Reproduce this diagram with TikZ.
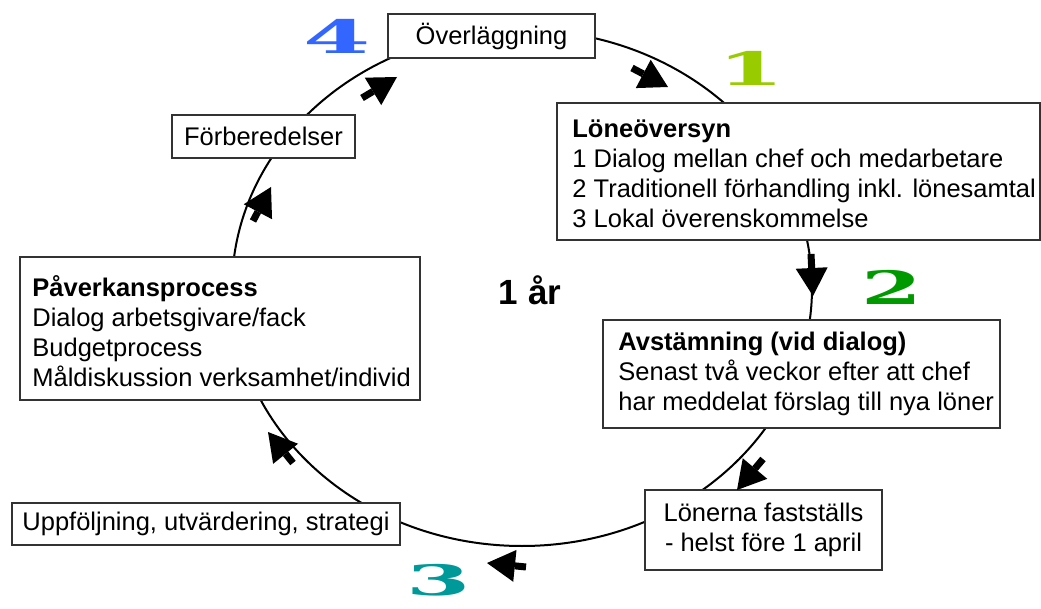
\documentclass[tikz,border=0pt]{standalone}
\usepackage{fontspec}
\usepackage{graphicx}
\setmainfont{Liberation Sans}
\newfontfamily\numfont{DejaVu Serif}
\usetikzlibrary{arrows.meta}
\definecolor{cfour}{RGB}{51,102,255}
\definecolor{cone}{RGB}{153,204,0}
\definecolor{ctwo}{RGB}{0,153,0}
\definecolor{cthree}{RGB}{0,153,153}
\begin{document}
\begin{tikzpicture}[x=1pt,y=-1pt,
  box/.style={draw=black!80, line width=1.6pt, fill=white, inner sep=0pt, font=\fontsize{25.5}{30}\selectfont},
  txt/.style={font=\fontsize{25.5}{30}\selectfont, align=left, inner sep=0pt, anchor=west},
  flow/.style={line width=7pt, -{Triangle[width=32pt,length=28pt,line width=0pt]}},
  ring/.style={line width=2pt},
  num/.style={font=\numfont\bfseries\fontsize{46}{46}\selectfont, inner sep=0pt}]
\useasboundingbox (0,0) rectangle (1041,609);
% cycle
\coordinate (c) at (522,288);
\draw[ring] (c) ellipse [x radius=290, y radius=258];
% boxes
\node[box, minimum width=207pt, minimum height=44pt] (ov) at (491.5,36) {Överläggning};
\node[box, minimum width=183pt, minimum height=43pt] (forb) at (263.5,136.5) {Förberedelser};
\node[box, minimum width=388pt, minimum height=42pt] (uppf) at (206,524) {Uppföljning, utvärdering, strategi};
\node[box, minimum width=237pt, minimum height=80pt, align=center] (lonerna) at (763.5,530) {Lönerna fastställs\\- helst före 1 april};
\node[box, minimum width=483pt, minimum height=137pt] (lone) at (798.5,171.5) {};
\node[txt] (lonetxt) at ([xshift=16pt,yshift=-2pt]lone.west) {\textbf{Löneöversyn}\\1 Dialog mellan chef och medarbetare\\2 Traditionell förhandling inkl. lönesamtal\\3 Lokal överenskommelse};
\node[box, minimum width=397pt, minimum height=108pt] (avst) at (801.5,374) {};
\node[txt] (avsttxt) at ([xshift=16pt]avst.west) {\textbf{Avstämning (vid dialog)}\\Senast två veckor efter att chef\\har meddelat förslag till nya löner};
\node[box, minimum width=400pt, minimum height=143pt] (pav) at (220,328.5) {};
\node[txt] (pavtxt) at ([xshift=13pt,yshift=-3pt]pav.west) {\textbf{Påverkansprocess}\\Dialog arbetsgivare/fack\\Budgetprocess\\Måldiskussion verksamhet/individ};
% centre label
\node[font=\bfseries\fontsize{35}{35}\selectfont, inner sep=0pt] (year) at (530,290) {1 år};
% step numbers
\node[num, text=cfour] (n4) at (337,36) {\scalebox{2.1}[1]{4}};
\node[num, text=cone] (n1) at (751,68) {\scalebox{2.1}[1]{1}};
\node[num, text=ctwo] (n2) at (892,287) {\scalebox{1.9}[1]{2}};
\node[num, text=cthree, font=\numfont\bfseries\fontsize{42}{42}\selectfont] (n3) at (439,580) {\scalebox{2.2}[1]{3}};
% direction arrows
\coordinate (a1s) at (632,68);  \coordinate (a1t) at (668,87);
\coordinate (a2s) at (811,254); \coordinate (a2t) at (813,296);
\coordinate (a3s) at (763,459); \coordinate (a3t) at (737,490);
\coordinate (a4s) at (526,567); \coordinate (a4t) at (487,563);
\coordinate (a5s) at (293,463); \coordinate (a5t) at (268,432);
\coordinate (a6s) at (253,221); \coordinate (a6t) at (271,187);
\coordinate (a7s) at (362,98);  \coordinate (a7t) at (397,77);
\foreach \i in {1,...,7} \draw[flow] (a\i s) -- (a\i t);
\end{tikzpicture}
\end{document}
